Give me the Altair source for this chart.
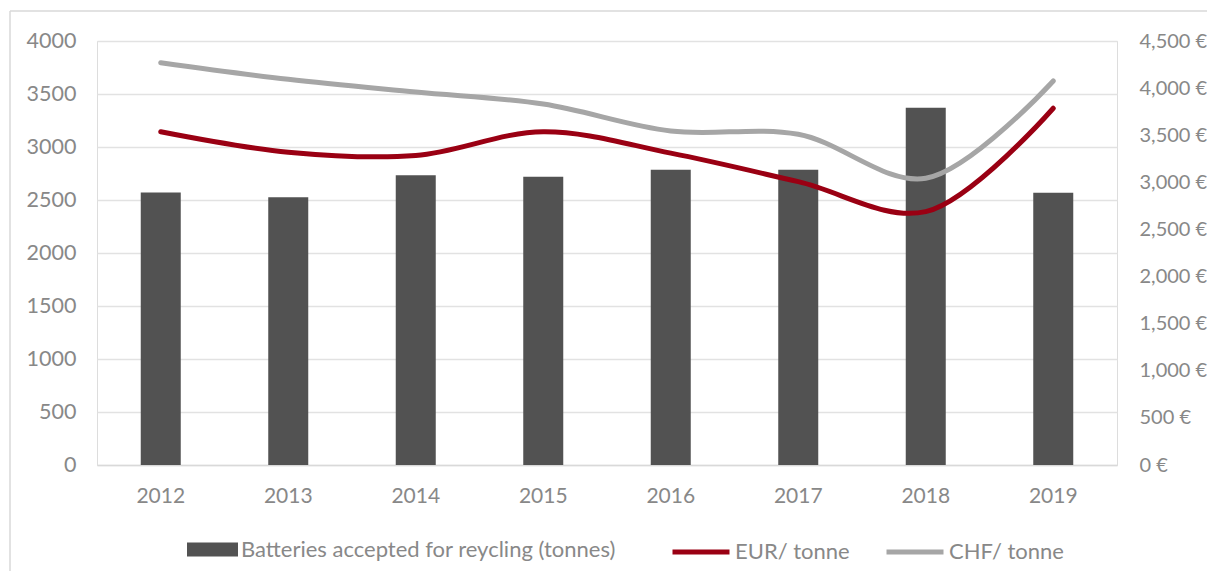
import altair as alt
import pandas as pd

years = ["2012", "2013", "2014", "2015", "2016", "2017", "2018", "2019"]
batteries = [2570, 2525, 2733, 2720, 2786, 2786, 3371, 2569]
eur_per_tonne = [3537, 3320, 3285, 3537, 3310, 3007, 2689, 3786]
chf_per_tonne = [4270, 4093, 3958, 3831, 3545, 3510, 3043, 4076]
left_ticks = [0, 500, 1000, 1500, 2000, 2500, 3000, 3500, 4000]
right_ticks = [0, 500, 1000, 1500, 2000, 2500, 3000, 3500, 4000, 4500]
bar_name = "Batteries accepted for reycling (tonnes)"
line_names = ["EUR/ tonne", "CHF/ tonne"]

FONT = "Lato"
LBL = "#888888"

bars_df = pd.DataFrame({"year": years, "tonnes": batteries, "series": bar_name})
lines_df = pd.DataFrame({
    "year": years * 2,
    "price": eur_per_tonne + chf_per_tonne,
    "series": [line_names[0]] * len(years) + [line_names[1]] * len(years),
})

x_enc = alt.X("year:O", title=None,
              scale=alt.Scale(paddingInner=0, paddingOuter=0),
              axis=alt.Axis(labelAngle=0, ticks=False, domain=True,
                            domainColor="#d9d9d9", domainWidth=1.3,
                            labelPadding=20, labelFontSize=21,
                            labelColor=LBL, labelFont=FONT, grid=False))

bars = alt.Chart(bars_df).mark_bar(size=40, color="#525252").encode(
    x=x_enc,
    y=alt.Y("tonnes:Q", title=None,
            scale=alt.Scale(domain=[0, 4000], nice=False),
            axis=alt.Axis(orient="left", values=left_ticks, format="d",
                          grid=True, gridColor="#e2e2e2", gridWidth=1.3,
                          domain=False, ticks=False, labelPadding=21,
                          labelFontSize=21.5, labelColor=LBL, labelFont=FONT)),
    color=alt.Color("series:N", scale=alt.Scale(domain=[bar_name], range=["#525252"]),
                    legend=alt.Legend(title=None, orient="none", legendX=90, legendY=483,
                                      symbolType="M-1,-0.27L1,-0.27L1,0.27L-1,0.27Z",
                                      symbolSize=2601, symbolOpacity=1,
                                      symbolStrokeWidth=0, labelOffset=3,
                                      labelLimit=700,
                                      labelFontSize=22, labelColor=LBL, labelFont=FONT,
                                      padding=0)),
)

lines = alt.Chart(lines_df).mark_line(strokeWidth=5, strokeCap="round",
                                      interpolate="catmull-rom").encode(
    x=x_enc,
    y=alt.Y("price:Q", title=None,
            scale=alt.Scale(domain=[0, 4500], nice=False),
            axis=alt.Axis(orient="right", values=right_ticks,
                          labelExpr="format(datum.value, ',') + ' €'",
                          grid=False, domain=False, ticks=False, labelPadding=22,
                          labelFontSize=20, labelColor=LBL, labelFont=FONT)),
    color=alt.Color("series:N",
                    scale=alt.Scale(domain=line_names, range=["#9a0013", "#a6a6a6"]),
                    legend=alt.Legend(title=None, orient="none", legendX=573, legendY=480,
                                      direction="horizontal", symbolType="stroke",
                                      symbolSize=3249, symbolStrokeWidth=5,
                                      labelOffset=3, columnPadding=26, labelLimit=300,
                                      labelFontSize=22, labelColor=LBL, labelFont=FONT,
                                      padding=0)),
    detail="series:N",
)

frame_data = alt.Data(values=[{"k": 1}])
top_border = alt.Chart(frame_data).mark_rule(color="#d9d9d9", strokeWidth=1.5).encode(
    x=alt.value(-87), x2=alt.value(1200), y=alt.value(-30))
left_border = alt.Chart(frame_data).mark_rule(color="#d9d9d9", strokeWidth=1.5).encode(
    x=alt.value(-87), y=alt.value(-30), y2=alt.value(600))

chart = alt.layer(bars, lines, top_border, left_border).resolve_scale(
    y="independent", color="independent"
).properties(
    width=1020, height=424,
    padding={"left": 89, "top": 33, "right": 90, "bottom": 106},
    autosize=alt.AutoSizeParams(type="none"),
).configure_view(stroke=None).configure(font=FONT)

chart.save("out.html", embed_options={"renderer": "svg", "actions": False})
